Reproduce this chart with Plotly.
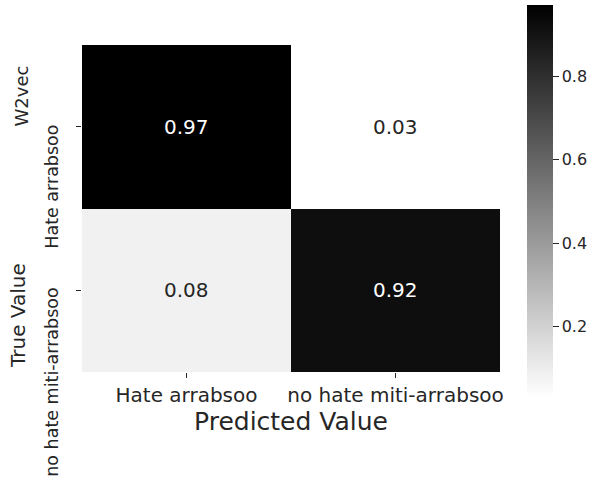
import plotly.graph_objects as go

categories = ["Hate arrabsoo", "no hate miti-arrabsoo"]
values = [[0.97, 0.03],
          [0.08, 0.92]]
cbar_ticks = [0.2, 0.4, 0.6, 0.8]

colorscale = [[0, "rgb(255,255,255)"], [1, "rgb(0,0,0)"]]

W, H = 595, 480
L, R, T, B = 82, 95, 45, 108
plot_h = H - T - B
plot_w = W - L - R
txt = "#262626"
font = "DejaVu Sans, Liberation Sans, sans-serif"
zmin, zmax = 0.03, 0.97
n = len(categories)

fig = go.Figure(go.Heatmap(
    z=values, x=categories, y=categories,
    colorscale=colorscale, zmin=zmin, zmax=zmax,
    colorbar=dict(
        thickness=26, thicknessmode="pixels",
        len=392, lenmode="pixels",
        x=527 / W, xanchor="left", xref="container",
        y=1 - 8 / H, yanchor="top", yref="container",
        outlinewidth=0, xpad=0, ypad=0,
        tickvals=cbar_ticks, ticktext=[f"{t:.1f}" for t in cbar_ticks],
        ticks="outside", ticklen=6, tickcolor=txt, tickwidth=1,
        tickfont=dict(size=16, color=txt, family=font),
    ),
    hoverinfo="skip",
))

anns = []
for i, row in enumerate(values):
    for j, v in enumerate(row):
        norm = (v - zmin) / (zmax - zmin)
        anns.append(dict(x=categories[j], y=categories[i], xref="x", yref="y",
                         text=f"{v:.2f}", showarrow=False,
                         font=dict(size=20, family=font,
                                   color="white" if norm > 0.5 else txt)))

# rotated y tick labels (end aligned at tick)
for c in categories:
    anns.append(dict(x=0, xref="paper", y=c, yref="y", text=c, showarrow=False,
                     textangle=-90, xanchor="right", yanchor="top", xshift=-18, yshift=4,
                     font=dict(size=17.5, family=font, color=txt)))

anns.append(dict(x=0, xref="paper", y=(H - B - 96) / plot_h, yref="paper", text="W2vec",
                 showarrow=False, textangle=-90, xanchor="right", yanchor="middle", xshift=-48,
                 font=dict(size=18, family=font, color=txt)))
anns.append(dict(x=0, xref="paper", y=(H - B - 316) / plot_h, yref="paper", text="True Value",
                 showarrow=False, textangle=-90, xanchor="right", yanchor="middle", xshift=-50,
                 font=dict(size=20, family=font, color=txt)))

fig.update_layout(
    width=W, height=H,
    margin=dict(l=L, r=R, t=T, b=B, pad=0, autoexpand=False),
    paper_bgcolor="white", plot_bgcolor="white",
    font=dict(family=font, color=txt),
    annotations=anns,
    xaxis=dict(showgrid=False, zeroline=False, ticks="outside", ticklen=5, tickcolor=txt,
               tickfont=dict(size=20, color=txt), showline=False, automargin=False,
               range=[-0.5, n - 0.5], autorange=False,
               title=dict(text="Predicted Value", font=dict(size=25, color=txt), standoff=0)),
    yaxis=dict(showgrid=False, zeroline=False, ticks="outside", ticklen=5, tickcolor=txt,
               showticklabels=False, range=[n - 0.5, -0.5], autorange=False,
               showline=False, automargin=False),
)

fig.write_html("out.html", config={"displayModeBar": False},
               post_script="document.body.style.margin='0';")
